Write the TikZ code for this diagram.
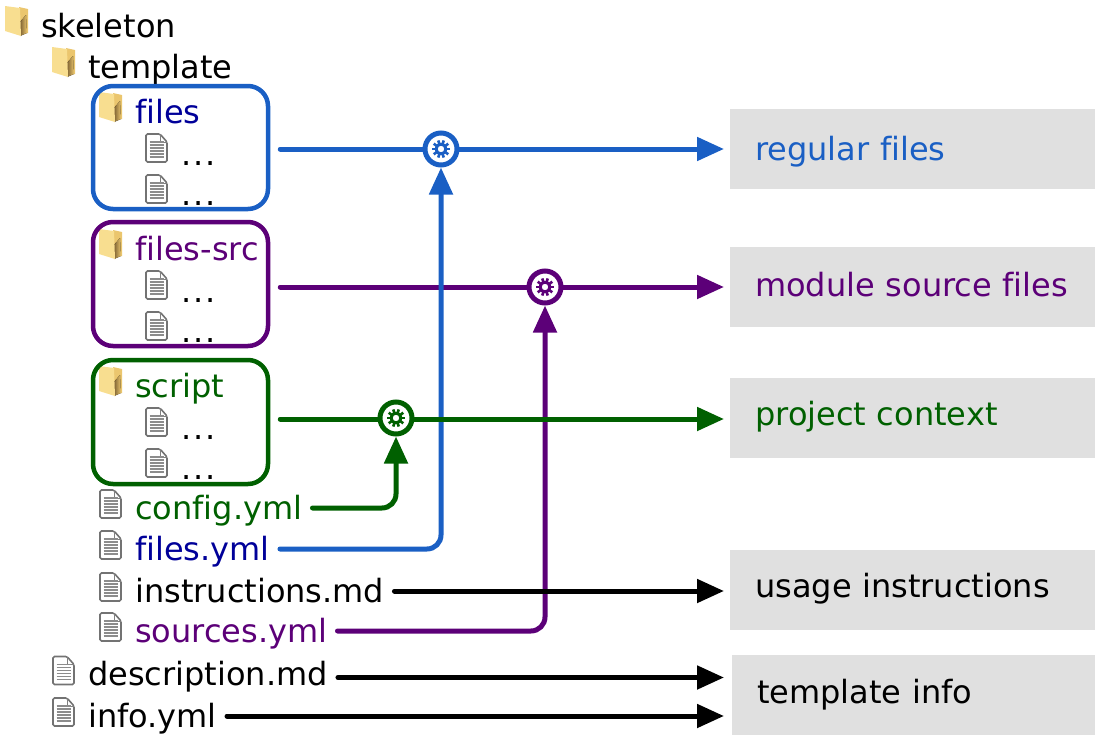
\documentclass[tikz,border=0pt]{standalone}
\usepackage{fontspec}
\setmainfont[Ligatures={NoCommon}]{DejaVu Sans}
\usetikzlibrary{arrows.meta,calc}
\definecolor{wireblue}{HTML}{1A5FC4}
\definecolor{nameblue}{HTML}{000099}
\definecolor{wirepurple}{HTML}{5C0078}
\definecolor{wiregreen}{HTML}{006000}
\definecolor{boxgray}{HTML}{E0E0E0}
\definecolor{folderlight}{HTML}{F8DE90}
\definecolor{folderback}{HTML}{EBC66E}
\definecolor{folderdark}{HTML}{7E6232}
\tikzset{
    >={Triangle[length=27pt,width=23pt]},
    wire/.style={line width=5pt, line cap=round, ->, rounded corners=14pt},
    treename/.style={anchor=base west, inner xsep=10pt, inner ysep=0pt, text height=22pt, text depth=0pt,
        font=\fontsize{32}{38}\selectfont},
    dirbox/.style={draw, line width=4.5pt, rounded corners=20pt, minimum width=175pt, minimum height=124pt},
    gearnode/.style={circle, draw, fill=white, line width=5pt, inner sep=0pt, minimum size=32pt},
    infobox/.style={fill=boxgray, minimum height=80pt, anchor=west, align=left, inner xsep=25pt,
        text width=#1, text depth=0pt, font=\fontsize{32}{38}\selectfont},
    pics/foldericon/.style={code={
        \fill[folderback] (14,1) -- (23,3) -- (23,27) -- (15,28) -- cycle;
        \fill[left color=folderdark,right color=folderback] (15,16) -- (21,9) -- (22,27) -- (15,30) -- cycle;
        \fill[folderlight] (0,0) -- (15,2) -- (16,30) -- (0,25) -- cycle;
    }},
    pics/fileicon/.style={code={
        \draw[gray!90!black, line width=1.6pt, rounded corners=1.5pt, fill=white] (1,1) -- (15,1) -- (22,9) -- (22,29) -- (1,29) -- cycle;
        \draw[gray, line width=1pt] (15,1) -- (15,9) -- (22,9);
        \foreach \liney in {9,12,...,26} \draw[gray!90, line width=1.8pt] (4.5,\liney) -- (18.5,\liney);
    }},
    pics/gearicon/.style={code={
        \foreach \ang in {0,36,...,324} \draw[line width=2.6pt] (\ang:5) -- (\ang:9);
        \fill[even odd rule] circle (6.2) circle (3.3);
    }},
}
\begin{document}
\begin{tikzpicture}[x=1pt,y=-1pt]
\useasboundingbox (0,0) rectangle (1104,744);
% top of the tree
\pic at (5,6) {foldericon};
\node[treename] (skeleton) at (31,37) {skeleton};
\pic at (52,47) {foldericon};
\node[treename] (template) at (78,78) {template};
% the three folders with two files each
\foreach \dirname/\dirtext/\dircol/\diry in {dirfiles/files/nameblue/123,dirsrc/files-src/wirepurple/260,dirscript/script/wiregreen/397} {
    \pic at (99,\diry-31) {foldericon};
    \node[treename,text=\dircol] (\dirname) at (125,\diry) {\dirtext};
    \pic at (145,\diry+10) {fileicon};
    \node[treename] (\dirname one) at (171,\diry+42) {.\hspace{1.8pt}.\hspace{1.8pt}.};
    \pic at (145,\diry+51) {fileicon};
    \node[treename] (\dirname two) at (171,\diry+82) {.\hspace{1.8pt}.\hspace{1.8pt}.};
}
\node[dirbox,draw=wireblue,minimum height=123pt] (boxfiles) at (180.5,147.5) {};
\node[dirbox,draw=wirepurple] (boxsrc) at (180.5,284) {};
\node[dirbox,draw=wiregreen] (boxscript) at (180.5,422) {};
% loose files
\foreach \fname/\ftext/\fcol/\fx/\fy in {config/config.yml/wiregreen/99/519,filesyml/files.yml/nameblue/99/560,instr/instructions.md/black/99/602,sources/sources.yml/wirepurple/99/642,descr/description.md/black/52/685.5,info/info.yml/black/52/727} {
    \pic at (\fx,\fy-30) {fileicon};
    \node[treename,text=\fcol] (\fname) at (\fx+26,\fy) {\ftext};
}
% result boxes
\node[infobox=315pt,text height=22pt,text=wireblue] (regular) at (730,149) {regular files};
\node[infobox=315pt,text height=18pt,text=wirepurple] (modsrc) at (730,287) {module source files};
\node[infobox=315pt,text height=14pt,text=wiregreen] (context) at (730,418) {project context};
\node[infobox=315pt,text height=14pt] (usage) at (730,590) {usage instructions};
\node[infobox=313pt,text height=16pt] (tplinfo) at (732,695) {template info};
% gears
\node[gearnode,draw=wireblue] (gearfiles) at (441,149) {};
\node[gearnode,draw=wirepurple] (gearsrc) at (545,287) {};
\node[gearnode,draw=wiregreen] (gearscript) at (396,418) {};
% wires, in the order they cross
\draw[wire,wirepurple,-] (boxsrc.east |- gearsrc) ++(10,0) -- (gearsrc.west);
\draw[wire,wirepurple,shorten >=6pt] (gearsrc.east) -- (modsrc.west);
\draw[wire,wireblue,-] (boxfiles.east |- gearfiles) ++(10,0) -- (gearfiles.west);
\draw[wire,wireblue,shorten >=6pt] (gearfiles.east) -- (regular.west);
\draw[wire,wireblue] (filesyml.east) -| (gearfiles.south);
\draw[wire,wirepurple] (sources.east) -| (gearsrc.south);
\draw[wire,wiregreen,-] (boxscript.east |- gearscript) ++(10,1) -- (gearscript.west |- 0,419);
\draw[wire,wiregreen,shorten >=6pt] (gearscript.east |- 0,419) -- (context.west |- 0,419);
\draw[wire,wiregreen] (config.east) -| (gearscript.south);
\draw[wire,black,shorten >=6pt] (instr.east) -- (instr.east -| usage.west);
\draw[wire,black,shorten >=8pt] ([yshift=-3pt]descr.east) -- ([yshift=-3pt]descr.east -| tplinfo.west);
\draw[wire,black,shorten >=8pt] (info.east) -- (info.east -| tplinfo.west);
\pic[wireblue] at (gearfiles) {gearicon};
\pic[wirepurple] at (gearsrc) {gearicon};
\pic[wiregreen] at (gearscript) {gearicon};
\end{tikzpicture}
\end{document}
